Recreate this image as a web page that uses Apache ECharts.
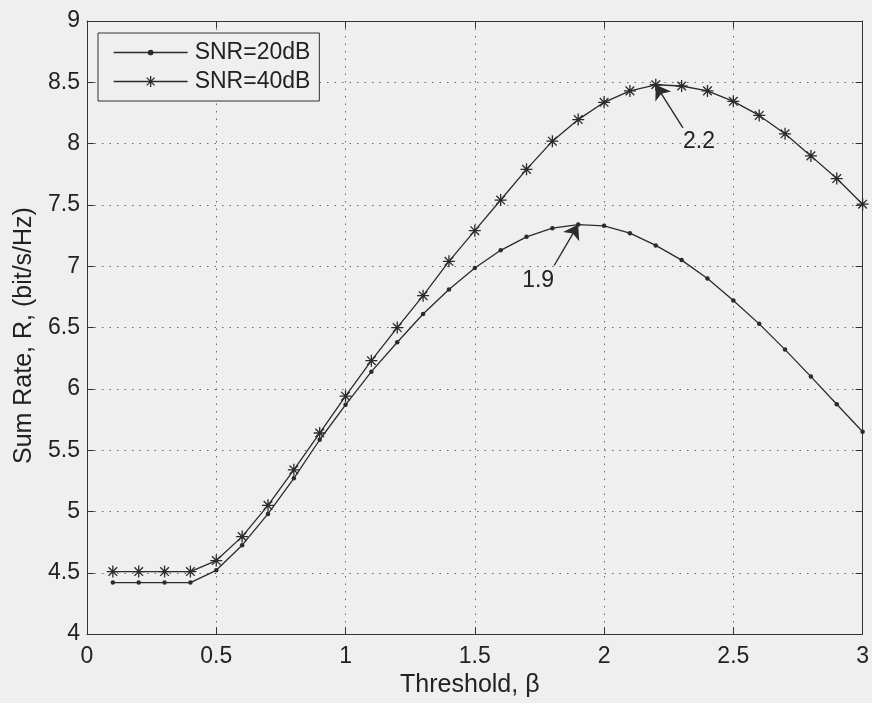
<!DOCTYPE html>
<html>
<head>
<meta charset="utf-8">
<title>Sum Rate vs Threshold</title>
<script src="https://cdn.jsdelivr.net/npm/echarts@6/dist/echarts.min.js"></script>
<style>
  html, body { margin: 0; padding: 0; background: #efefef; }
  #chart { width: 872px; height: 703px; }
</style>
</head>
<body>
<div id="chart"></div>
<script>
// Threshold values (beta) shared by both curves
const thresholds = [0.1, 0.2, 0.3, 0.4, 0.5, 0.6, 0.7, 0.8, 0.9, 1.0,
                    1.1, 1.2, 1.3, 1.4, 1.5, 1.6, 1.7, 1.8, 1.9, 2.0,
                    2.1, 2.2, 2.3, 2.4, 2.5, 2.6, 2.7, 2.8, 2.9, 3.0];

// Sum rate (bit/s/Hz) at SNR = 20 dB
const snr20 = [4.42, 4.42, 4.42, 4.42, 4.52, 4.725, 4.98, 5.27, 5.585, 5.87,
               6.14, 6.38, 6.61, 6.81, 6.985, 7.13, 7.24, 7.31, 7.34, 7.33,
               7.27, 7.17, 7.05, 6.90, 6.72, 6.53, 6.32, 6.10, 5.875, 5.65];

// Sum rate (bit/s/Hz) at SNR = 40 dB
const snr40 = [4.51, 4.51, 4.51, 4.51, 4.60, 4.795, 5.05, 5.34, 5.64, 5.94,
               6.23, 6.50, 6.76, 7.04, 7.29, 7.54, 7.79, 8.02, 8.196, 8.337,
               8.43, 8.48, 8.47, 8.43, 8.345, 8.23, 8.08, 7.90, 7.715, 7.506];

const seriesNames = ['SNR=20dB', 'SNR=40dB'];

// Axis ranges and tick spacing
const xRange = [0, 3], xStep = 0.5;
const yRange = [4, 9], yStep = 0.5;

// Optimal thresholds marked with an arrow; arrow tail and label anchor in data units
const peakThresholds = [1.9, 2.2];
const arrowTails = [[1.807, 7.006], [2.305, 8.129]];
const labelAnchors = [[1.745, 6.88], [2.367, 8.02]];

const INK = '#2b2b2b';
const FONT = '"Liberation Sans", Arial, Helvetica, sans-serif';

// Asterisk marker (plus + cross), drawn as strokes
const starPath = 'path://M0,-5L0,5M-5,0L5,0M-3.6,-3.6L3.6,3.6M-3.6,3.6L3.6,-3.6';

// Legend icons: line sample with its marker, in a 74 x 14 box
const legendDotIcon = 'path://M0,0M74,14M0,7L74,7M34.8,7A2.2,2.2 0 1 0 39.2,7A2.2,2.2 0 1 0 34.8,7Z';
const legendStarIcon = 'path://M0,0M74,14M0,7L74,7M37,1.5L37,12.5M31.5,7L42.5,7M33.1,3.1L40.9,10.9M33.1,10.9L40.9,3.1';

function pairs(xs, ys) {
  return xs.map((x, i) => [x, ys[i]]);
}

function peakMarks(ys, k) {
  const x = peakThresholds[k];
  const idx = thresholds.findIndex(t => Math.abs(t - x) < 1e-9);
  const tip = [x, ys[idx]];
  return {
    markLine: {
      silent: true,
      animation: false,
      symbol: ['none', 'arrow'],
      symbolSize: 14,
      symbolOffset: 0,
      label: { show: false },
      itemStyle: { color: INK },
      lineStyle: { color: INK, width: 1.4, type: 'solid' },
      emphasis: { disabled: true },
      data: [[
        { coord: arrowTails[k], symbol: 'none' },
        { coord: tip, symbol: 'arrow', symbolSize: 14 }
      ]]
    },
    markPoint: {
      silent: true,
      animation: false,
      symbol: 'circle',
      symbolSize: 1,
      itemStyle: { color: 'rgba(0,0,0,0)' },
      label: {
        show: true,
        position: 'inside',
        formatter: () => String(x),
        color: '#222',
        fontSize: 23,
        fontFamily: FONT
      },
      data: [{ coord: labelAnchors[k] }]
    }
  };
}

const grid = { left: 87, right: 8, top: 21, bottom: 66, containLabel: false };

const tickStyle = { show: true, inside: true, length: 7, lineStyle: { color: '#333', width: 1 } };
const lineStyleAxis = { show: true, onZero: false, lineStyle: { color: '#333', width: 1 } };
const gridLine = { show: true, lineStyle: { color: '#6a6a6a', width: 1, type: [1.5, 6] } };

const option = {
  backgroundColor: '#efefef',
  animation: false,
  grid: grid,
  legend: {
    orient: 'vertical',
    left: 98,
    top: 33,
    align: 'left',
    itemWidth: 74,
    itemHeight: 14,
    itemGap: 6,
    padding: [8, 9, 8, 15],
    borderColor: '#333',
    borderWidth: 1,
    backgroundColor: '#efefef',
    textStyle: { color: '#222', fontSize: 23, fontFamily: FONT, padding: [0, 0, 0, 2] },
    itemStyle: { color: INK, borderColor: INK, borderWidth: 1.3 },
    data: [
      { name: seriesNames[0], icon: legendDotIcon },
      { name: seriesNames[1], icon: legendStarIcon }
    ]
  },
  xAxis: [
    {
      type: 'value', min: xRange[0], max: xRange[1], interval: xStep,
      position: 'bottom',
      name: 'Threshold, β',
      nameLocation: 'middle',
      nameGap: 28,
      nameTextStyle: { color: '#222', fontSize: 25, fontFamily: FONT, padding: [0, 10, 0, 0] },
      axisLine: lineStyleAxis,
      axisTick: tickStyle,
      axisLabel: { color: '#222', fontSize: 23, fontFamily: FONT, margin: 11 },
      splitLine: gridLine
    },
    {
      type: 'value', min: xRange[0], max: xRange[1], interval: xStep,
      position: 'top',
      axisLine: lineStyleAxis,
      axisTick: tickStyle,
      axisLabel: { show: false },
      splitLine: { show: false }
    }
  ],
  yAxis: [
    {
      type: 'value', min: yRange[0], max: yRange[1], interval: yStep,
      position: 'left',
      name: 'Sum Rate, R, (bit/s/Hz)',
      nameLocation: 'middle',
      nameGap: 50,
      nameTextStyle: { color: '#222', fontSize: 25, fontFamily: FONT, padding: [0, 16, 0, 0] },
      axisLine: lineStyleAxis,
      axisTick: tickStyle,
      axisLabel: { color: '#222', fontSize: 23, fontFamily: FONT, margin: 7 },
      splitLine: gridLine
    },
    {
      type: 'value', min: yRange[0], max: yRange[1], interval: yStep,
      position: 'right',
      axisLine: lineStyleAxis,
      axisTick: tickStyle,
      axisLabel: { show: false },
      splitLine: { show: false }
    }
  ],
  series: [
    Object.assign({
      name: seriesNames[0],
      type: 'line',
      data: pairs(thresholds, snr20),
      symbol: 'circle',
      symbolSize: 4.5,
      showSymbol: true,
      lineStyle: { color: INK, width: 1.3 },
      itemStyle: { color: INK, borderWidth: 0 },
      emphasis: { disabled: true }
    }, peakMarks(snr20, 0)),
    Object.assign({
      name: seriesNames[1],
      type: 'line',
      data: pairs(thresholds, snr40),
      symbol: starPath,
      symbolSize: 12,
      showSymbol: true,
      lineStyle: { color: INK, width: 1.3 },
      itemStyle: { color: INK, borderColor: INK, borderWidth: 1.3 },
      emphasis: { disabled: true }
    }, peakMarks(snr40, 1))
  ]
};

const chart = echarts.init(document.getElementById('chart'), null, { renderer: 'canvas' });
chart.setOption(option);
</script>
</body>
</html>
